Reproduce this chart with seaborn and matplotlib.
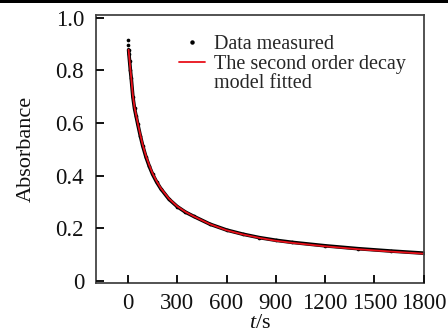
import matplotlib
matplotlib.use("Agg")
import matplotlib.pyplot as plt
from matplotlib.lines import Line2D
from matplotlib.patches import Rectangle
import seaborn as sns
import pandas as pd

# Measured absorbance decay
t_measured = [0, 2, 4, 6, 10, 15, 20, 30, 40, 50, 60, 75, 90, 110, 130, 150,
              175, 200, 250, 300, 350, 400, 500, 600, 700, 800, 900, 1000,
              1200, 1400, 1600, 1800]
a_measured = [0.915, 0.895, 0.878, 0.862, 0.835, 0.800, 0.770, 0.700, 0.655,
              0.625, 0.595, 0.552, 0.513, 0.470, 0.435, 0.405, 0.375, 0.350,
              0.310, 0.282, 0.261, 0.245, 0.215, 0.193, 0.177, 0.164, 0.154,
              0.146, 0.133, 0.122, 0.113, 0.105]

# Second order decay model fitted to the measurements
t_fit = [4, 6, 10, 15, 20, 30, 40, 50, 60, 75, 90, 110, 130, 150, 175, 200,
         250, 300, 350, 400, 500, 600, 700, 800, 900, 1000, 1200, 1400, 1600,
         1800]
a_fit = [0.878, 0.864, 0.837, 0.803, 0.773, 0.705, 0.660, 0.629, 0.599,
         0.556, 0.517, 0.474, 0.439, 0.408, 0.378, 0.352, 0.312, 0.283,
         0.262, 0.245, 0.215, 0.192, 0.176, 0.163, 0.152, 0.144, 0.131,
         0.120, 0.111, 0.103]

x_ticks = [0, 300, 600, 900, 1200, 1500, 1800]
y_ticks = [0, 0.2, 0.4, 0.6, 0.8, 1.0]
y_tick_labels = ["0", "0.2", "0.4", "0.6", "0.8", "1.0"]

measured = pd.DataFrame({"t": t_measured, "A": a_measured})
fitted = pd.DataFrame({"t": t_fit, "A": a_fit})

sns.set_theme(style="white")
plt.rcParams["font.family"] = ["Liberation Serif", "DejaVu Serif"]
plt.rcParams["mathtext.fontset"] = "custom"
plt.rcParams["mathtext.it"] = "Liberation Serif:italic"
plt.rcParams["mathtext.rm"] = "Liberation Serif"
plt.rcParams["axes.axisbelow"] = False

fig, ax = plt.subplots(figsize=(4.48, 3.34), dpi=100)
fig.subplots_adjust(left=0.214, right=0.946, top=0.955, bottom=0.153)

# dense measurement trace
sns.lineplot(data=measured[measured.t >= 4], x="t", y="A", ax=ax,
             color="black", lw=2.6, legend=False)
sns.scatterplot(data=measured, x="t", y="A", ax=ax, color="black",
                s=7, linewidth=0, legend=False)
sns.lineplot(data=fitted, x="t", y="A", ax=ax, color="#e8101a", lw=1.3,
             legend=False)

ax.set_xlim(-195, 1800)
ax.set_ylim(-0.008, 1.01)
ax.set_xticks(x_ticks)
ax.set_xticklabels([str(v) for v in x_ticks])
ax.set_yticks(y_ticks)
ax.set_yticklabels(y_tick_labels)
ax.tick_params(axis="both", which="major", direction="in", length=6,
               width=1.4, colors="#111111", labelsize=16.5,
               bottom=True, left=True, top=False, right=False)
ax.tick_params(axis="x", pad=7)
ax.tick_params(axis="y", pad=8.5)
for side in ["left", "right", "top", "bottom"]:
    ax.spines[side].set_visible(True)
    ax.spines[side].set_color("#444444")
    ax.spines[side].set_linewidth(1.3)

ax.set_xlabel(r"$t$/s", fontsize=16, labelpad=0, color="#111111")
ax.set_ylabel("Absorbance", fontsize=16, labelpad=14, color="#111111")

handles = [
    Line2D([], [], ls="none", marker="o", ms=2.2, color="black"),
    Line2D([], [], color="#e8101a", lw=1.3),
    Line2D([], [], ls="none"),
]
labels = ["Data measured", "The second order decay", "model fitted"]
ax.legend(handles, labels, loc="upper left", bbox_to_anchor=(0.23, 0.955),
          frameon=False, fontsize=14.5, handlelength=1.25, handletextpad=0.45,
          labelspacing=0.02, borderaxespad=0)

# dark band along the top edge
fig.patches.append(Rectangle((0, 0.99), 1, 0.01, transform=fig.transFigure,
                             facecolor="black", edgecolor="none"))

fig.savefig("out.png", dpi=100)
